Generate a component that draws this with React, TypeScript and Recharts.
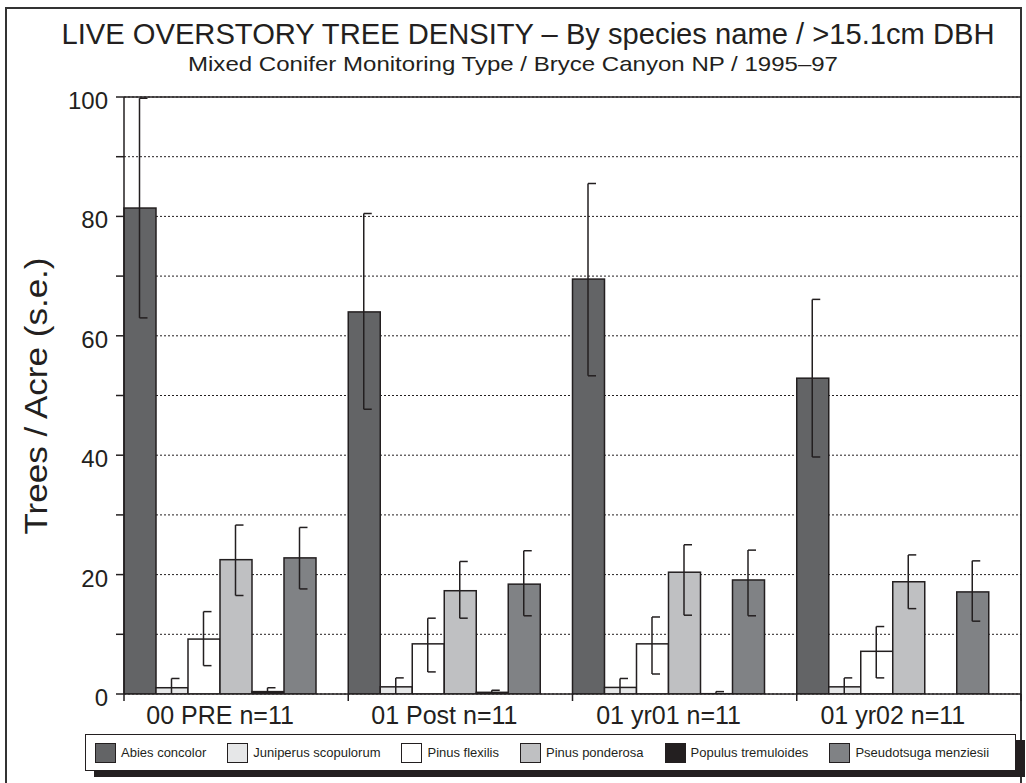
import React from 'react';
import { BarChart, Bar, XAxis, YAxis, CartesianGrid, ReferenceLine } from 'recharts';

const categories = ['00 PRE n=11', '01 Post n=11', '01 yr01 n=11', '01 yr02 n=11'];

const speciesNames = [
  'Abies concolor',
  'Juniperus scopulorum',
  'Pinus flexilis',
  'Pinus ponderosa',
  'Populus tremuloides',
  'Pseudotsuga menziesii',
];
const speciesKeys = ['abies', 'juniperus', 'flexilis', 'ponderosa', 'populus', 'pseudotsuga'];
const speciesColors = ['#636466', '#e6e7e8', '#ffffff', '#bfc0c2', '#231f20', '#808285'];

// means (trees / acre)
const abiesMean = [81.4, 64.0, 69.5, 52.9];
const juniperusMean = [1.05, 1.2, 1.1, 1.2];
const flexilisMean = [9.2, 8.4, 8.4, 7.15];
const ponderosaMean = [22.5, 17.3, 20.4, 18.8];
const populusMean = [0.4, 0.28, 0.05, 0];
const pseudotsugaMean = [22.8, 18.4, 19.1, 17.1];

// standard error, lower and upper parts
const abiesSeLow = [18.4, 16.3, 16.2, 13.2];
const abiesSeHigh = [18.4, 16.5, 16.0, 13.2];
const juniperusSeLow = [1.55, 1.5, 1.5, 1.5];
const juniperusSeHigh = [1.55, 1.5, 1.5, 1.5];
const flexilisSeLow = [4.45, 4.7, 5.05, 4.45];
const flexilisSeHigh = [4.6, 4.3, 4.5, 4.15];
const ponderosaSeLow = [6.0, 4.6, 7.2, 4.5];
const ponderosaSeHigh = [5.8, 4.9, 4.6, 4.5];
const populusSeLow = [0.65, 0.35, 0.35, 0];
const populusSeHigh = [0.65, 0.35, 0.35, 0];
const pseudotsugaSeLow = [5.2, 5.3, 6.0, 4.9];
const pseudotsugaSeHigh = [5.1, 5.6, 5.0, 5.2];

// empty seventh slot in each category (the spacing after the last species)
const spacerValues = [null, null, null, null];

const yTicks = [0, 10, 20, 30, 40, 50, 60, 70, 80, 90, 100];
const Y_MIN = 0;
const Y_MAX = 100;

const means = [abiesMean, juniperusMean, flexilisMean, ponderosaMean, populusMean, pseudotsugaMean];
const seLows = [abiesSeLow, juniperusSeLow, flexilisSeLow, ponderosaSeLow, populusSeLow, pseudotsugaSeLow];
const seHighs = [abiesSeHigh, juniperusSeHigh, flexilisSeHigh, ponderosaSeHigh, populusSeHigh, pseudotsugaSeHigh];

const data = categories.map((name, i) => {
  const row: any = { name, spacer: spacerValues[i] };
  speciesKeys.forEach((k, s) => {
    row[k] = means[s][i];
    row[k + 'Lo'] = seLows[s][i];
    row[k + 'Hi'] = seHighs[s][i];
  });
  return row;
});

const INK = '#231f20';
const FONT = "'Liberation Sans', Arial, Helvetica, sans-serif";
const SLOTS = speciesKeys.length + 1;

const makeShape = (key: string, color: string) => (props: any) => {
  const { x, y, width, height, payload, background } = props;
  if (x == null || payload == null) return <g />;
  const mean = Number(payload[key]) || 0;
  const lo = Number(payload[key + 'Lo']) || 0;
  const hi = Number(payload[key + 'Hi']) || 0;
  let toPix: (v: number) => number;
  if (background && background.height) {
    const top = background.y;
    const h = background.height;
    toPix = (v: number) => top + h * (1 - (v - Y_MIN) / (Y_MAX - Y_MIN));
  } else {
    const base = y + height;
    const k = mean ? height / mean : 0;
    toPix = (v: number) => base - v * k;
  }
  const cx = x + width / 2 - 0.5;
  const upV = Math.min(Y_MAX, mean + hi);
  const lowV = mean - lo;
  const yTop = toPix(upV);
  const yBot = toPix(Math.max(Y_MIN, lowV));
  const cap = 8;
  return (
    <g>
      {height > 0.1 && (
        <rect x={x} y={y} width={width} height={height} fill={color} stroke={INK} strokeWidth={1.5} />
      )}
      {hi + lo > 0 && (
        <g stroke={INK} strokeWidth={1.5} fill="none">
          <line x1={cx} x2={cx} y1={yTop} y2={yBot} />
          {upV < Y_MAX && <line x1={cx} x2={cx + cap} y1={yTop} y2={yTop} />}
          {lowV > Y_MIN && <line x1={cx} x2={cx + cap} y1={yBot} y2={yBot} />}
        </g>
      )}
    </g>
  );
};

const CategoryTick = (props: any) => {
  const { x, y, payload, index, visibleTicksCount } = props;
  const half = payload && payload.offset ? payload.offset : (1021 - 124) / 8;
  const axisY = y - 8;
  const last = index === (visibleTicksCount || categories.length) - 1;
  // label centred on the cluster of species bars (all slots but the empty one)
  const labelX = x - half / SLOTS;
  return (
    <g>
      <line x1={x - half} x2={x - half} y1={axisY} y2={axisY + 7} stroke={INK} strokeWidth={1.5} />
      {last && <line x1={x + half} x2={x + half} y1={axisY} y2={axisY + 7} stroke={INK} strokeWidth={1.5} />}
      <text x={labelX} y={y} dy={22} textAnchor="middle" fontSize={25} fill={INK} fontFamily={FONT}>
        {payload.value}
      </text>
    </g>
  );
};

const ValueTick = (props: any) => {
  const { x, y, payload } = props;
  const v = payload.value;
  if (v % 20 !== 0) return <g />;
  return (
    <text x={x} y={y} dy={12} textAnchor="end" fontSize={24} fill={INK} fontFamily={FONT}>
      {v}
    </text>
  );
};

const LegendBox = () => (
  <div
    style={{
      position: 'absolute',
      left: 85,
      top: 734,
      width: 931,
      height: 37,
      boxSizing: 'border-box',
      border: `1px solid ${INK}`,
      background: '#fff',
      boxShadow: `9px 6px 0 ${INK}`,
      display: 'flex',
      alignItems: 'center',
      paddingLeft: 9,
      gap: 21,
      fontFamily: FONT,
      fontSize: 13,
      color: INK,
    }}
  >
    {speciesNames.map((n, i) => (
      <div key={n} style={{ display: 'flex', alignItems: 'center', gap: 5 }}>
        <div
          style={{
            width: 21,
            height: 20,
            boxSizing: 'border-box',
            border: `1.5px solid ${INK}`,
            background: speciesColors[i],
          }}
        />
        <span>{n}</span>
      </div>
    ))}
  </div>
);

export default function App() {
  return (
    <div
      style={{
        position: 'absolute',
        left: 0,
        top: 0,
        width: 1026,
        height: 783,
        background: '#fff',
        overflow: 'hidden',
      }}
    >
      <div
        style={{
          position: 'absolute',
          left: 5,
          top: 7,
          width: 1017,
          height: 820,
          boxSizing: 'border-box',
          border: '2px solid #333',
        }}
      />
      <div style={{ position: 'absolute', left: 0, top: 0 }}>
        <BarChart
          width={1026}
          height={783}
          data={data}
          margin={{ top: 97, right: 5, bottom: 0, left: 0 }}
          barCategoryGap={0}
          barGap={0}
        >
          <CartesianGrid vertical={false} stroke={INK} strokeDasharray="2 2" strokeWidth={1} />
          <XAxis
            dataKey="name"
            height={89}
            interval={0}
            axisLine={{ stroke: INK, strokeWidth: 1.5 }}
            tickLine={false}
            tickSize={6}
            tickMargin={2}
            tick={<CategoryTick />}
          />
          <YAxis
            width={124}
            domain={[Y_MIN, Y_MAX]}
            ticks={yTicks}
            interval={0}
            allowDataOverflow
            axisLine={{ stroke: INK, strokeWidth: 1.5 }}
            tickLine={{ stroke: INK, strokeWidth: 1.5 }}
            tickSize={8}
            tickMargin={8}
            tick={<ValueTick />}
          />
          <YAxis
            yAxisId="frame"
            orientation="right"
            width={0}
            domain={[Y_MIN, Y_MAX]}
            tick={false}
            tickLine={false}
            axisLine={{ stroke: INK, strokeWidth: 1.5 }}
          />
          <ReferenceLine y={Y_MAX} stroke={INK} strokeWidth={1.5} />
          {speciesKeys.map((k, i) => (
            <Bar
              key={k}
              dataKey={k}
              name={speciesNames[i]}
              fill={speciesColors[i]}
              isAnimationActive={false}
              shape={makeShape(k, speciesColors[i])}
            />
          ))}
          <Bar dataKey="spacer" fill="none" legendType="none" isAnimationActive={false} />
        </BarChart>
      </div>
      <svg
        width={1026}
        height={783}
        style={{ position: 'absolute', left: 0, top: 0, pointerEvents: 'none' }}
      >
        <text
          x={528}
          y={44}
          textAnchor="middle"
          fontSize={30}
          fill={INK}
          fontFamily={FONT}
          textLength={933}
          lengthAdjust="spacingAndGlyphs"
        >
          LIVE OVERSTORY TREE DENSITY – By species name / &gt;15.1cm DBH
        </text>
        <text
          x={513}
          y={71}
          textAnchor="middle"
          fontSize={21}
          fill={INK}
          fontFamily={FONT}
          textLength={650}
          lengthAdjust="spacingAndGlyphs"
        >
          Mixed Conifer Monitoring Type / Bryce Canyon NP / 1995–97
        </text>
        <text
          x={36}
          y={396}
          transform="rotate(-90 36 396)"
          textAnchor="middle"
          dominantBaseline="central"
          fontSize={31}
          fill={INK}
          fontFamily={FONT}
          textLength={277}
          lengthAdjust="spacingAndGlyphs"
        >
          Trees / Acre (s.e.)
        </text>
      </svg>
      <LegendBox />
    </div>
  );
}
